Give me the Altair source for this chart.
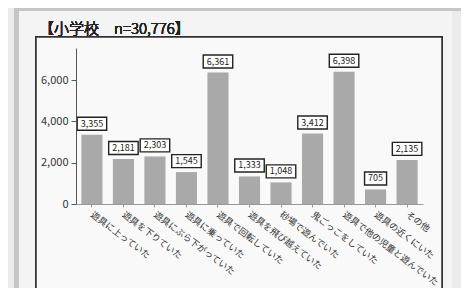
import altair as alt
import pandas as pd

categories = [
    "遊具に上っていた", "遊具を下りていた", "遊具にぶら下がっていた", "遊具に乗っていた",
    "遊具で回転していた", "遊具を飛び越えていた", "砂場で遊んでいた", "鬼ごっこをしていた",
    "遊具で他の児童と遊んでいた", "遊具の近くにいた", "その他",
]
values = [3355, 2181, 2303, 1545, 6361, 1333, 1048, 3412, 6398, 705, 2135]
title_text = "【小学校　n=30,776】"
y_ticks = [0, 2000, 4000, 6000]

FONT = "Noto Sans CJK JP"

df = pd.DataFrame({"cat": categories, "val": values})
df["lab"] = df["val"].map(lambda v: f"{v:,}")


def box_path(s):
    digits = sum(c.isdigit() for c in s)
    commas = s.count(",")
    w = 5.0 * digits + 2.5 * commas + 7
    return f"M{-w/2},-6.5h{w}v13h{-w}z"


df["box"] = df["lab"].map(box_path)

W, H = 347, 156

xenc = alt.X(
    "cat:N", sort=None, title=None,
    scale=alt.Scale(paddingInner=0.33, paddingOuter=0.17),
    axis=alt.Axis(labelAngle=37, labelAlign="left", labelBaseline="middle",
                  labelFontSize=9, labelPadding=6, labelColor="#333",
                  labelFont=FONT, tickSize=3, tickColor="#999",
                  domainColor="#999", labelLimit=300, zindex=2),
)
yenc = alt.Y(
    "val:Q", title=None,
    scale=alt.Scale(domain=[0, 7550], nice=False),
    axis=alt.Axis(values=y_ticks, format=",.0f", grid=False, tickSize=5,
                  tickColor="#555", domainColor="#555", labelFontSize=11,
                  labelColor="#333", labelFont=FONT, labelPadding=3, zindex=2),
)

base = alt.Chart(df)

frame_light = base.mark_rect(fill="#f4f4f4").encode(
    x=alt.value(-60), x2=alt.value(376), y=alt.value(-39), y2=alt.value(260))
band_top = base.mark_rect(fill="#c6c6c6").encode(
    x=alt.value(-62), x2=alt.value(400), y=alt.value(-40), y2=alt.value(-37))
band_left = base.mark_rect(fill="#c6c6c6").encode(
    x=alt.value(-62), x2=alt.value(-57), y=alt.value(-40), y2=alt.value(260))
inner_box = base.mark_rect(fill="#f9f9f9", stroke="#333", strokeWidth=1.5).encode(
    x=alt.value(-40), x2=alt.value(366), y=alt.value(-11), y2=alt.value(270))
title = base.mark_text(
    text=title_text, align="left", baseline="alphabetic", fontSize=15,
    font=FONT, fontWeight=300, color="#222").encode(
    x=alt.value(-37), y=alt.value(-14))

bars = base.mark_bar(color="#a9a9a9").encode(x=xenc, y=yenc)
boxes = base.mark_point(filled=True, fill="white", stroke="#222", strokeWidth=1.4,
                        size=4, opacity=1, yOffset=-11).encode(
    x=alt.X("cat:N", sort=None), y="val:Q",
    shape=alt.Shape("box:N", scale=None, legend=None))
texts = base.mark_text(fontSize=9, font=FONT, color="#222", yOffset=-11,
                       baseline="middle").encode(
    x=alt.X("cat:N", sort=None), y="val:Q", text="lab:N")

chart = alt.layer(
    frame_light, band_top, band_left, inner_box, title, bars, boxes, texts
).properties(
    width=W, height=H,
    autosize=alt.AutoSizeParams(type="none"),
    padding={"left": 68, "top": 40, "right": 38, "bottom": 84},
    background="#ebebeb",
).configure_view(stroke=None)

chart.save("out.html", embed_options={"renderer": "svg", "actions": False})
